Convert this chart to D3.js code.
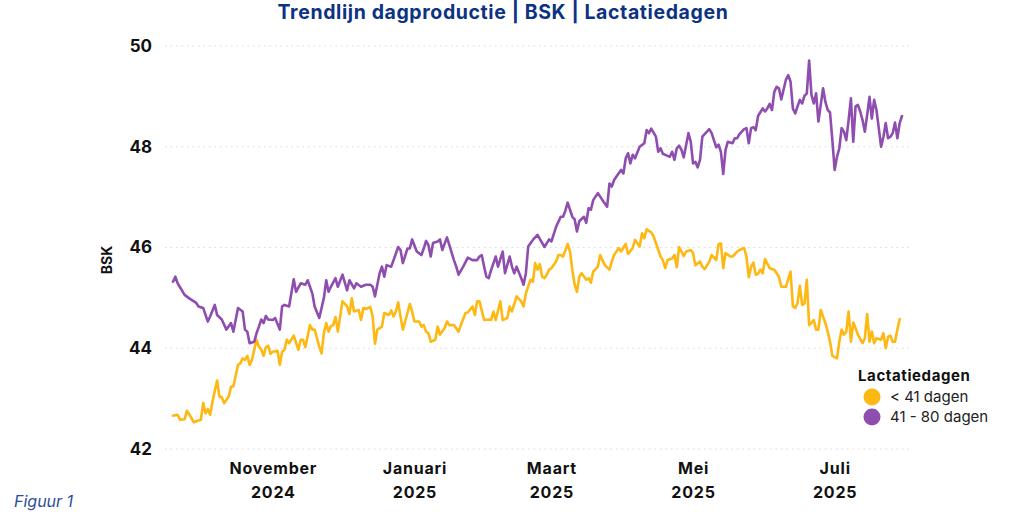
<!DOCTYPE html>
<html>
<head>
<meta charset="utf-8">
<script src="https://cdn.jsdelivr.net/npm/d3@7"></script>
<style>
  html, body { margin: 0; padding: 0; background: #fff; }
  svg { display: block; }
  text { font-family: "Inter", "Roboto", "DejaVu Sans", sans-serif; }
</style>
</head>
<body>
<svg id="chart" width="1024" height="512"></svg>
<script>
// ---------- DATA ----------
const titleText = "Trendlijn dagproductie | BSK | Lactatiedagen";
const yAxisTitle = "BSK";
const footnote = "Figuur 1";
const legendTitle = "Lactatiedagen";
const seriesNames = ["< 41 dagen", "41 - 80 dagen"];
const seriesColors = ["#FDB813", "#8E4DAF"];

const yTicks = [42, 44, 46, 48, 50];
const xTickDates = ["2024-11-01", "2025-01-01", "2025-03-01", "2025-05-01", "2025-07-01"];
const xTickMonths = ["November", "Januari", "Maart", "Mei", "Juli"];
const xTickYears = ["2024", "2025", "2025", "2025", "2025"];

// < 41 dagen
const lt41Dates = [
"2024-09-19","2024-09-21","2024-09-22","2024-09-24","2024-09-25","2024-09-27","2024-09-28","2024-09-29","2024-10-01","2024-10-02",
"2024-10-03","2024-10-04","2024-10-05","2024-10-06","2024-10-08","2024-10-09","2024-10-10","2024-10-11","2024-10-13","2024-10-14",
"2024-10-15","2024-10-17","2024-10-18","2024-10-19","2024-10-20","2024-10-21","2024-10-22","2024-10-23","2024-10-25","2024-10-26",
"2024-10-27","2024-10-28","2024-10-29","2024-10-30","2024-10-31","2024-11-01","2024-11-03","2024-11-04","2024-11-05","2024-11-06",
"2024-11-07","2024-11-08","2024-11-10","2024-11-12","2024-11-13","2024-11-14","2024-11-15","2024-11-17","2024-11-18","2024-11-19",
"2024-11-21","2024-11-22","2024-11-23","2024-11-24","2024-11-25","2024-11-26","2024-11-27","2024-11-28","2024-11-29","2024-12-01",
"2024-12-03","2024-12-04","2024-12-05","2024-12-06","2024-12-08","2024-12-09","2024-12-10","2024-12-11","2024-12-13","2024-12-14",
"2024-12-15","2024-12-16","2024-12-18","2024-12-19","2024-12-21","2024-12-22","2024-12-23","2024-12-24","2024-12-25","2024-12-26",
"2024-12-27","2024-12-29","2024-12-30","2024-12-31","2025-01-01","2025-01-03","2025-01-04","2025-01-05","2025-01-06","2025-01-07",
"2025-01-08","2025-01-10","2025-01-11","2025-01-12","2025-01-14","2025-01-15","2025-01-16","2025-01-18","2025-01-20","2025-01-21",
"2025-01-23","2025-01-24","2025-01-26","2025-01-27","2025-01-28","2025-01-29","2025-01-31","2025-02-02","2025-02-03","2025-02-04",
"2025-02-05","2025-02-07","2025-02-08","2025-02-10","2025-02-11","2025-02-12","2025-02-14","2025-02-16","2025-02-17","2025-02-18",
"2025-02-20","2025-02-21","2025-02-22","2025-02-23","2025-02-24","2025-02-25","2025-02-26","2025-02-27","2025-02-28","2025-03-01",
"2025-03-03","2025-03-04","2025-03-05","2025-03-06","2025-03-08","2025-03-09","2025-03-10","2025-03-11","2025-03-12","2025-03-13",
"2025-03-14","2025-03-16","2025-03-17","2025-03-18","2025-03-19","2025-03-21","2025-03-22","2025-03-23","2025-03-24","2025-03-26",
"2025-03-27","2025-03-28","2025-03-30","2025-03-31","2025-04-02","2025-04-03","2025-04-05","2025-04-06","2025-04-08","2025-04-09",
"2025-04-10","2025-04-11","2025-04-13","2025-04-14","2025-04-15","2025-04-17","2025-04-18","2025-04-19","2025-04-20","2025-04-22",
"2025-04-23","2025-04-24","2025-04-25","2025-04-27","2025-04-28","2025-04-30","2025-05-01","2025-05-02","2025-05-04","2025-05-05",
"2025-05-06","2025-05-08","2025-05-09","2025-05-11","2025-05-12","2025-05-13","2025-05-14","2025-05-15","2025-05-17","2025-05-18",
"2025-05-20","2025-05-21","2025-05-23","2025-05-24","2025-05-25","2025-05-26","2025-05-27","2025-05-28","2025-05-29","2025-05-30",
"2025-05-31","2025-06-01","2025-06-03","2025-06-05","2025-06-07","2025-06-08","2025-06-10","2025-06-12","2025-06-13","2025-06-14",
"2025-06-15","2025-06-16","2025-06-17","2025-06-18","2025-06-19","2025-06-20","2025-06-21","2025-06-22","2025-06-23","2025-06-24",
"2025-06-25","2025-06-27","2025-06-28","2025-06-29","2025-06-30","2025-07-02","2025-07-03","2025-07-04","2025-07-05","2025-07-06",
"2025-07-07","2025-07-08","2025-07-09","2025-07-10","2025-07-11","2025-07-13","2025-07-14","2025-07-15","2025-07-16","2025-07-17",
"2025-07-18","2025-07-19","2025-07-21","2025-07-22","2025-07-23","2025-07-24","2025-07-25","2025-07-26","2025-07-27","2025-07-28",
"2025-07-29"];
const lt41Values = [
42.66,42.68,42.58,42.59,42.76,42.61,42.53,42.55,42.58,42.91,
42.71,42.79,42.68,42.94,43.36,43.04,43.03,42.91,43.04,43.24,
43.24,43.67,43.70,43.80,43.77,43.85,43.67,43.77,44.17,44.03,
43.98,43.85,44.02,44.05,43.89,43.93,43.95,43.67,43.93,43.97,
44.17,44.10,44.25,43.97,44.17,44.17,44.02,44.46,44.37,44.37,
44.03,43.90,44.30,44.50,44.33,44.44,44.46,44.62,44.33,44.93,
44.83,44.68,44.99,44.73,44.76,44.56,44.80,44.78,44.82,44.63,
44.09,44.37,44.43,44.70,44.66,44.75,44.63,44.73,44.91,44.63,
44.37,44.70,44.88,44.73,44.53,44.53,44.43,44.46,44.33,44.30,
44.13,44.17,44.43,44.27,44.40,44.53,44.46,44.46,44.33,44.46,
44.70,44.71,44.83,44.66,44.93,44.93,44.56,44.57,44.56,44.73,
44.56,44.93,44.56,44.60,44.83,44.73,45.03,44.93,44.83,45.09,
45.36,45.32,45.69,45.56,45.67,45.42,45.39,45.46,45.56,45.59,
45.72,45.85,45.85,45.82,46.07,45.92,45.56,45.26,45.12,45.42,
45.49,45.36,45.39,45.30,45.52,45.62,45.85,45.75,45.65,45.56,
45.72,45.85,45.99,45.92,46.07,45.87,45.99,46.15,46.02,46.28,
46.18,46.36,46.30,46.22,46.09,45.82,45.75,45.59,45.75,45.78,
45.85,45.61,46.01,45.83,45.92,45.95,45.89,45.65,45.72,45.62,
45.57,45.72,45.85,45.75,46.07,46.08,45.59,45.89,45.82,45.82,
45.92,45.95,45.99,45.82,45.41,45.62,45.70,45.46,45.48,45.56,
45.49,45.77,45.59,45.56,45.42,45.22,45.22,45.52,44.83,44.80,
44.89,45.24,44.86,44.89,45.36,44.46,44.50,44.56,44.37,44.37,
44.76,44.50,44.33,44.13,43.85,43.80,44.13,44.37,44.27,44.33,
44.73,44.13,44.51,44.40,44.27,44.10,44.20,44.68,44.13,44.33,
44.10,44.20,44.17,44.30,44.00,44.23,44.25,44.13,44.13,44.37,
44.58];

// 41 - 80 dagen
const d41to80Dates = [
"2024-09-19","2024-09-20","2024-09-21","2024-09-24","2024-09-26","2024-09-28","2024-09-29","2024-09-30","2024-10-02","2024-10-04",
"2024-10-05","2024-10-07","2024-10-08","2024-10-10","2024-10-12","2024-10-14","2024-10-15","2024-10-17","2024-10-19","2024-10-20",
"2024-10-21","2024-10-22","2024-10-24","2024-10-25","2024-10-26","2024-10-27","2024-10-28","2024-10-29","2024-10-30","2024-11-01",
"2024-11-02","2024-11-04","2024-11-05","2024-11-06","2024-11-08","2024-11-10","2024-11-11","2024-11-13","2024-11-15","2024-11-16",
"2024-11-18","2024-11-19","2024-11-21","2024-11-23","2024-11-24","2024-11-25","2024-11-26","2024-11-28","2024-11-29","2024-12-01",
"2024-12-03","2024-12-04","2024-12-06","2024-12-07","2024-12-09","2024-12-11","2024-12-13","2024-12-14","2024-12-15","2024-12-17",
"2024-12-18","2024-12-19","2024-12-20","2024-12-22","2024-12-23","2024-12-25","2024-12-26","2024-12-27","2024-12-29","2024-12-30",
"2024-12-31","2025-01-02","2025-01-04","2025-01-05","2025-01-06","2025-01-07","2025-01-08","2025-01-09","2025-01-11","2025-01-12",
"2025-01-13","2025-01-15","2025-01-16","2025-01-18","2025-01-19","2025-01-20","2025-01-22","2025-01-24","2025-01-26","2025-01-28",
"2025-01-29","2025-01-30","2025-01-31","2025-02-01","2025-02-02","2025-02-03","2025-02-05","2025-02-06","2025-02-08","2025-02-09",
"2025-02-11","2025-02-12","2025-02-13","2025-02-14","2025-02-16","2025-02-17","2025-02-18","2025-02-19","2025-02-21","2025-02-23",
"2025-02-26","2025-02-28","2025-03-01","2025-03-03","2025-03-05","2025-03-06","2025-03-07","2025-03-08","2025-03-10","2025-03-11",
"2025-03-12","2025-03-13","2025-03-15","2025-03-16","2025-03-17","2025-03-18","2025-03-19","2025-03-21","2025-03-23","2025-03-25",
"2025-03-26","2025-03-27","2025-03-28","2025-03-29","2025-03-31","2025-04-01","2025-04-02","2025-04-03","2025-04-04","2025-04-05",
"2025-04-06","2025-04-08","2025-04-10","2025-04-11","2025-04-12","2025-04-13","2025-04-15","2025-04-16","2025-04-17","2025-04-18",
"2025-04-20","2025-04-21","2025-04-22","2025-04-23","2025-04-24","2025-04-25","2025-04-26","2025-04-27","2025-04-29","2025-04-30",
"2025-05-01","2025-05-02","2025-05-03","2025-05-04","2025-05-05","2025-05-08","2025-05-09","2025-05-11","2025-05-12","2025-05-13",
"2025-05-14","2025-05-15","2025-05-16","2025-05-18","2025-05-19","2025-05-20","2025-05-21","2025-05-23","2025-05-24","2025-05-25",
"2025-05-26","2025-05-27","2025-05-28","2025-05-29","2025-05-31","2025-06-01","2025-06-02","2025-06-03","2025-06-04","2025-06-05",
"2025-06-06","2025-06-07","2025-06-08","2025-06-10","2025-06-11","2025-06-12","2025-06-13","2025-06-14","2025-06-15","2025-06-16",
"2025-06-17","2025-06-18","2025-06-19","2025-06-20","2025-06-21","2025-06-22","2025-06-23","2025-06-24","2025-06-25","2025-06-26",
"2025-06-27","2025-06-28","2025-06-29","2025-06-30","2025-07-01","2025-07-02","2025-07-03","2025-07-04","2025-07-05","2025-07-06",
"2025-07-07","2025-07-08","2025-07-09","2025-07-10","2025-07-11","2025-07-12","2025-07-13","2025-07-14","2025-07-15","2025-07-16",
"2025-07-17","2025-07-18","2025-07-19","2025-07-20","2025-07-21","2025-07-22","2025-07-23","2025-07-24","2025-07-25","2025-07-26",
"2025-07-27","2025-07-28","2025-07-29","2025-07-30"];
const d41to80Values = [
45.32,45.42,45.29,45.06,44.99,44.93,44.90,44.83,44.80,44.53,
44.63,44.86,44.66,44.57,44.37,44.50,44.33,44.80,44.73,44.37,
44.33,44.10,44.13,44.30,44.43,44.57,44.50,44.64,44.57,44.56,
44.60,44.37,44.83,44.86,44.83,45.37,45.12,45.29,45.26,45.35,
45.09,44.83,44.60,45.00,45.35,45.12,45.22,45.39,45.22,45.46,
45.15,45.35,45.19,45.29,45.22,45.26,45.26,45.22,45.03,45.49,
45.62,45.42,45.65,45.62,45.75,46.01,45.95,45.69,45.98,45.98,
46.16,45.92,45.85,45.98,46.13,46.05,45.82,46.09,46.12,46.16,
45.95,46.20,46.05,45.75,45.62,45.46,45.62,45.80,45.75,45.75,
45.82,45.85,45.62,45.42,45.39,45.55,45.82,45.62,45.92,45.49,
45.82,45.62,45.49,45.62,45.39,45.26,45.49,46.02,46.15,46.25,
46.01,46.16,46.12,46.41,46.61,46.61,46.73,46.89,46.61,46.56,
46.32,46.52,46.61,46.49,46.78,46.75,46.94,47.08,46.94,46.81,
47.27,47.21,47.34,47.41,47.54,47.47,47.77,47.87,47.67,47.84,
47.77,48.00,48.07,48.33,48.27,48.36,48.20,47.90,47.97,47.86,
47.82,47.80,47.90,47.74,47.97,48.02,47.94,47.79,48.27,48.10,
47.67,47.70,47.59,47.74,48.20,48.35,48.27,47.99,48.04,47.90,
47.46,47.94,48.10,48.07,48.17,48.17,48.25,48.35,48.37,48.07,
48.37,48.39,48.33,48.61,48.76,48.70,48.76,48.85,48.73,49.09,
49.19,49.16,48.94,49.33,49.42,49.29,48.76,48.66,48.80,48.93,
48.86,49.01,49.06,49.71,49.03,48.86,49.06,48.50,48.83,49.16,
48.89,48.73,48.68,48.13,47.54,47.80,47.97,48.37,48.30,48.13,
48.53,48.96,48.10,48.80,48.83,48.70,48.53,48.30,48.63,48.99,
48.56,48.93,48.73,48.37,48.00,48.20,48.47,48.17,48.20,48.27,
48.48,48.17,48.47,48.61];

// ---------- CHART ----------
const svg = d3.select("#chart");
const parse = d3.utcParse("%Y-%m-%d");

const series = [
  { name: seriesNames[0], color: seriesColors[0],
    points: lt41Dates.map((d, i) => ({ date: parse(d), value: lt41Values[i] })) },
  { name: seriesNames[1], color: seriesColors[1],
    points: d41to80Dates.map((d, i) => ({ date: parse(d), value: d41to80Values[i] })) }
];

const allDates = series.flatMap(s => s.points.map(p => p.date));
const x = d3.scaleUtc().domain(d3.extent(allDates)).range([173, 902]);
const y = d3.scaleLinear().domain([42, 50]).range([449, 46]);

// gridlines
svg.append("g")
  .selectAll("line")
  .data(yTicks)
  .join("line")
  .attr("x1", 165).attr("x2", 912)
  .attr("y1", d => y(d)).attr("y2", d => y(d))
  .attr("stroke", "#d9d9d9")
  .attr("stroke-width", 1)
  .attr("stroke-dasharray", "1.5,4");

// y axis
const yAxis = svg.append("g")
  .attr("transform", "translate(152,0)")
  .call(d3.axisLeft(y).tickValues(yTicks).tickSize(0).tickPadding(0).tickFormat(d3.format("d")));
yAxis.select(".domain").remove();
yAxis.selectAll("text")
  .attr("font-size", 17).attr("font-weight", 700).attr("fill", "#111")
  .style("font-family", "Inter, Roboto, sans-serif");

// y title
svg.append("text")
  .attr("transform", "translate(112,260) rotate(-90)")
  .attr("text-anchor", "middle")
  .attr("font-size", 14).attr("font-weight", 700).attr("fill", "#111")
  .text(yAxisTitle);

// x axis
const xAxis = svg.append("g")
  .attr("transform", "translate(0,455)")
  .call(d3.axisBottom(x).tickValues(xTickDates.map(parse)).tickSize(0).tickFormat(() => ""));
xAxis.select(".domain").remove();
xAxis.selectAll(".tick text").remove();
xAxis.selectAll(".tick").each(function(d, i) {
  const t = d3.select(this).append("text")
    .attr("text-anchor", "middle")
    .attr("fill", "#111")
    .attr("font-size", 16).attr("font-weight", 700)
    .attr("letter-spacing", 0.8);
  t.append("tspan").attr("x", 0).attr("y", 19).text(xTickMonths[i]);
  t.append("tspan").attr("x", 0).attr("y", 43).text(xTickYears[i]);
});

// lines
const line = d3.line().x(d => x(d.date)).y(d => y(d.value));
svg.append("g")
  .selectAll("path")
  .data(series)
  .join("path")
  .attr("d", d => line(d.points))
  .attr("fill", "none")
  .attr("stroke", d => d.color)
  .attr("stroke-width", 2.6)
  .attr("stroke-linejoin", "round")
  .attr("stroke-linecap", "round");

// title
svg.append("text")
  .attr("x", 503).attr("y", 19)
  .attr("text-anchor", "middle")
  .attr("font-size", 19.5).attr("font-weight", 700)
  .attr("letter-spacing", 0.6)
  .attr("fill", "#0C3382")
  .text(titleText);

// legend
const lg = svg.append("g").attr("transform", "translate(858,0)");
lg.append("text")
  .attr("x", 0).attr("y", 381)
  .attr("font-size", 15).attr("font-weight", 700).attr("fill", "#111")
  .attr("letter-spacing", 0.6)
  .text(legendTitle);
series.forEach((s, i) => {
  lg.append("circle").attr("cx", 14).attr("cy", 397 + i * 20).attr("r", 8.5).attr("fill", s.color);
  lg.append("text").attr("x", 32).attr("y", 402 + i * 20)
    .attr("font-size", 15).attr("fill", "#222").text(s.name);
});

// footnote
svg.append("text")
  .attr("x", 14).attr("y", 507)
  .attr("font-size", 16).attr("font-style", "italic")
  .attr("fill", "#2B4C9B")
  .text(footnote);
</script>
</body>
</html>
